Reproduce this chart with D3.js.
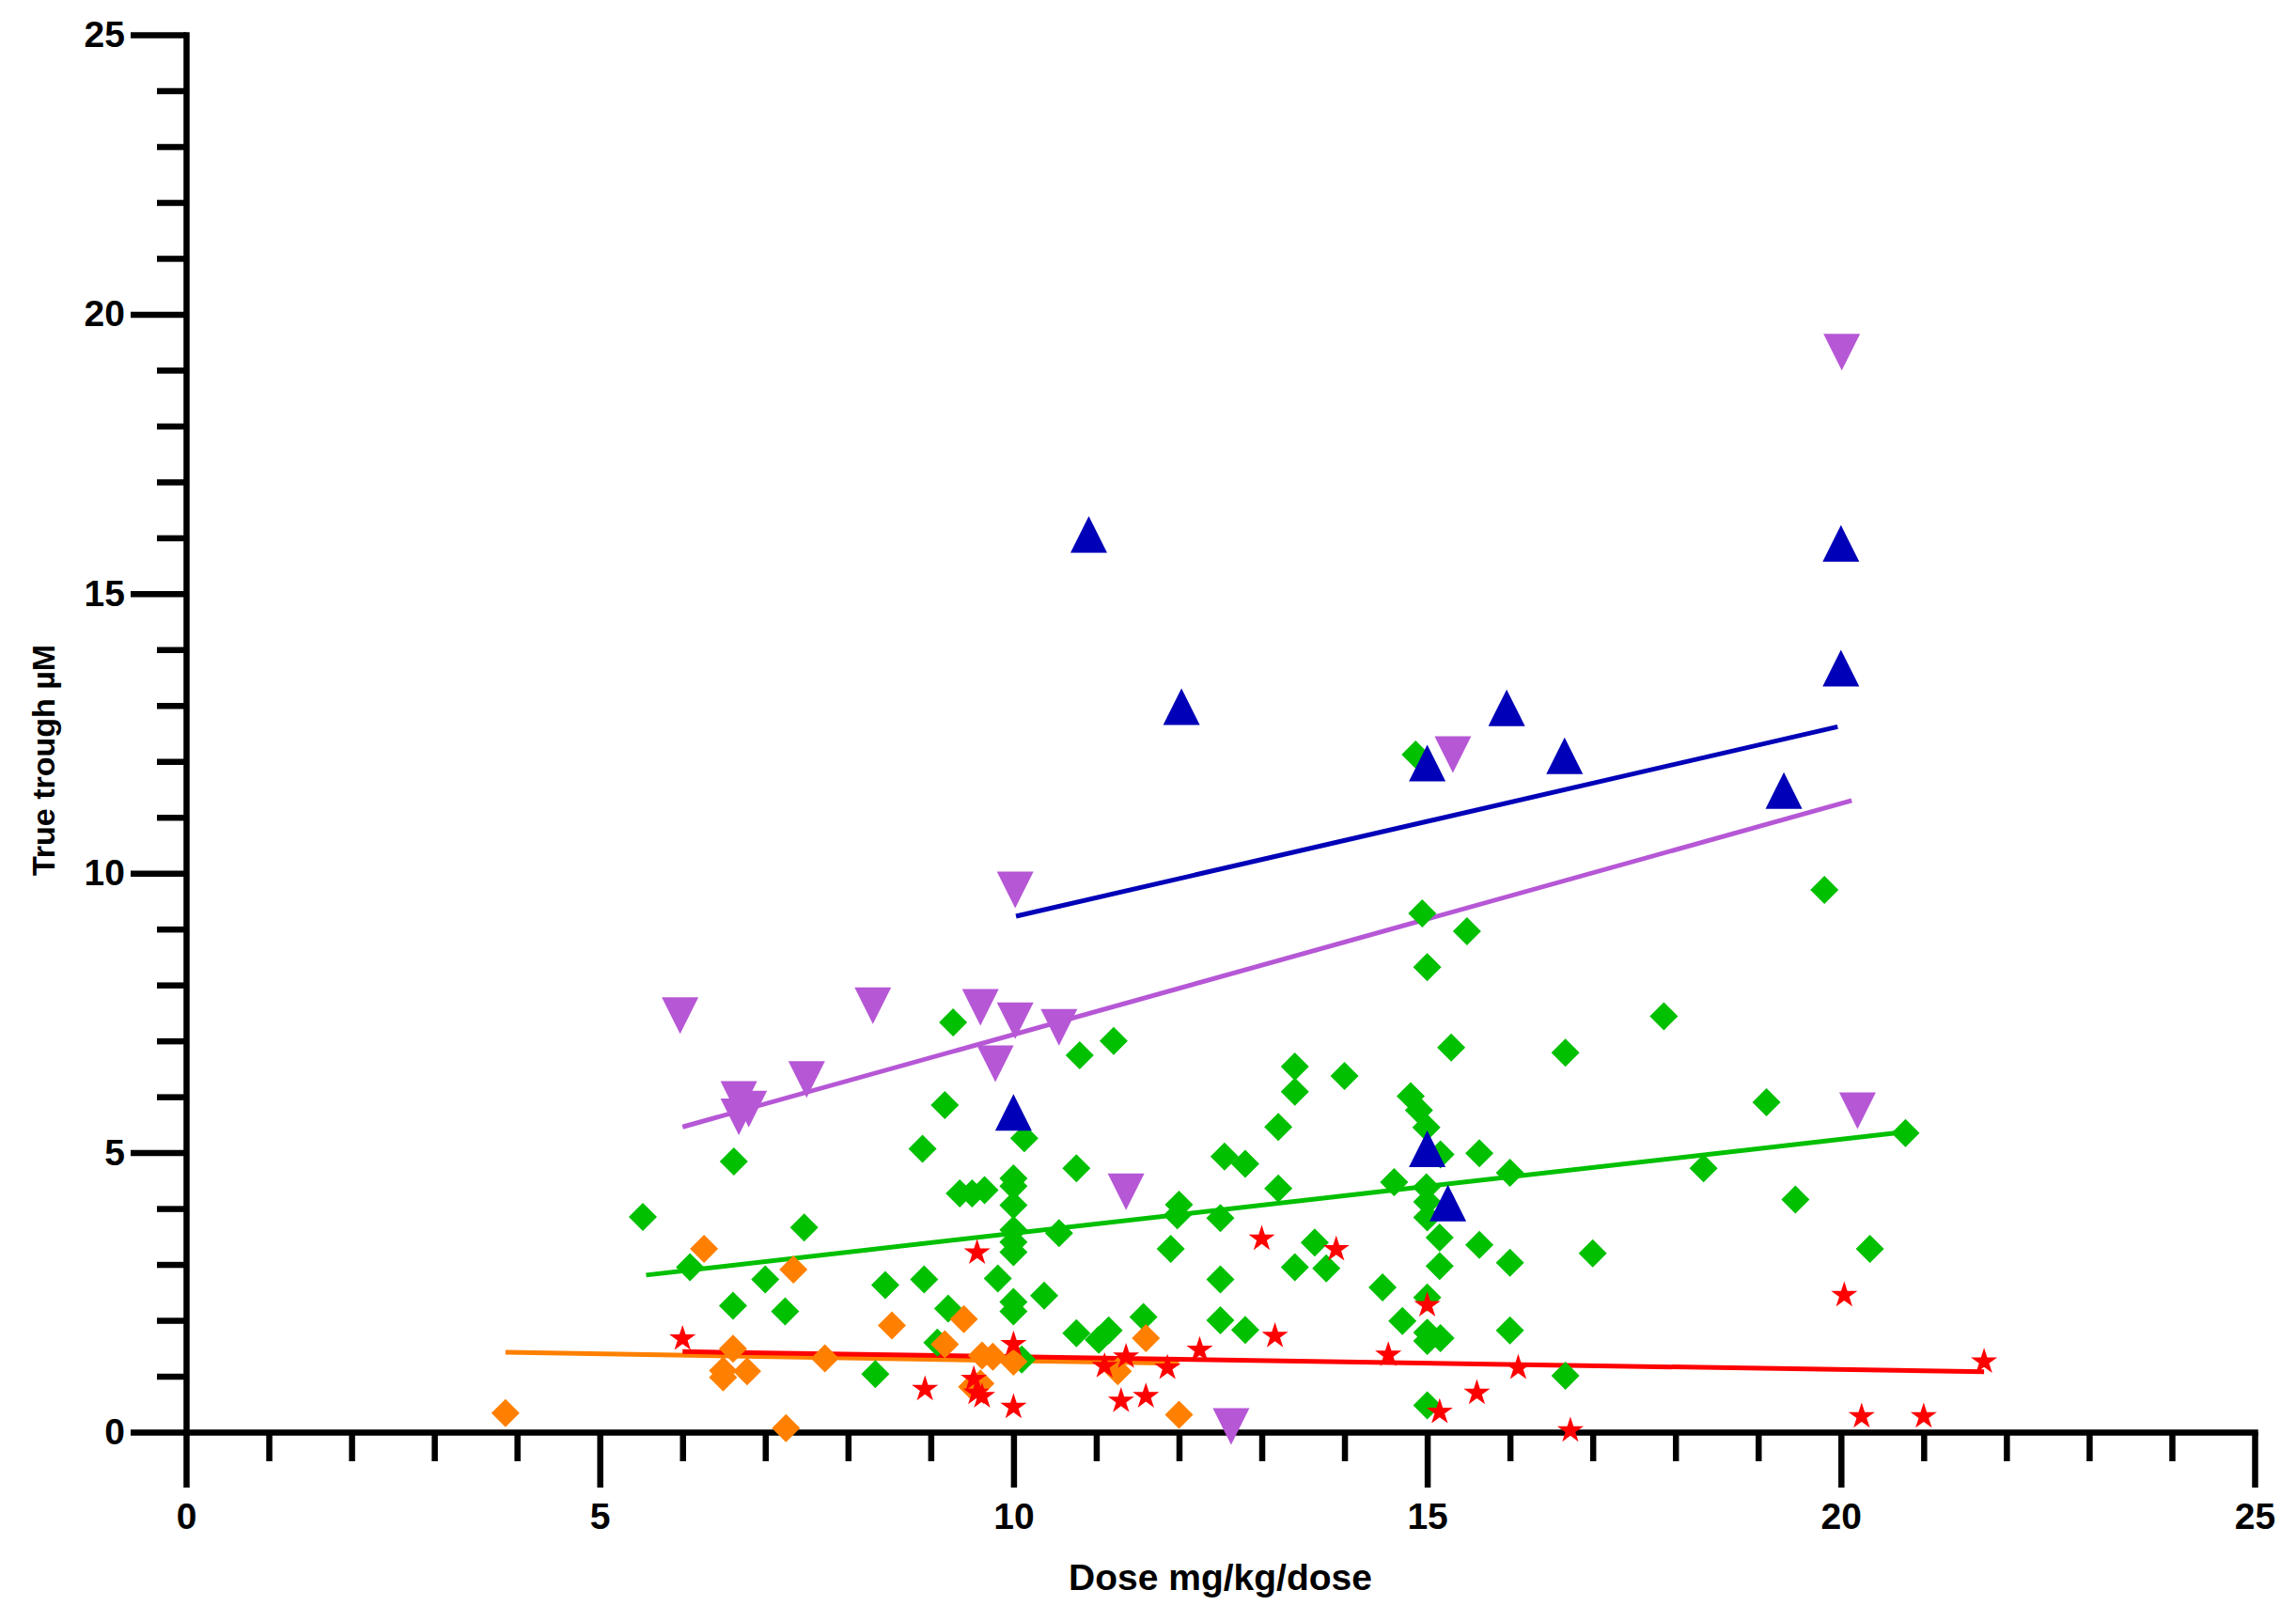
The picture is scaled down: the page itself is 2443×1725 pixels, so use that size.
<!DOCTYPE html>
<html>
<head>
<meta charset="utf-8">
<script src="https://cdn.jsdelivr.net/npm/d3@7"></script>
<style>
  html, body { margin: 0; padding: 0; background: #fff; }
  text { font-family: "Liberation Sans", Arial, sans-serif; font-weight: bold; fill: #000; }
</style>
</head>
<body>
<div id="trough-chart"></div>
<script>
// values: [dose, trough]
const greenPoints = [
  [5.52,3.85],[6.09,2.95],[6.61,2.26],[6.62,4.84],[7.0,2.73],[7.24,2.16],[7.47,3.66],
  [8.33,1.04],[8.45,2.63],[8.9,5.07],[8.92,2.73],[9.08,1.6],[9.17,5.85],[9.21,2.21],
  [9.27,7.33],[9.35,4.27],[9.5,4.27],[9.65,4.33],[9.81,2.75],[10.0,4.54],[10.0,4.4],
  [10.0,4.06],[10.0,3.62],[10.0,3.4],[10.0,3.22],[10.0,2.33],[10.0,2.16],[10.1,1.3],
  [10.13,5.26],[10.37,2.44],[10.55,3.56],[10.76,1.77],[10.76,4.72],[10.8,6.74],
  [11.03,1.65],[11.15,1.82],[11.21,7.0],[11.57,2.06],[11.9,3.28],[12.0,4.07],[11.98,3.88],
  [12.5,3.83],[12.5,2.73],[12.5,2.0],[12.55,4.93],[12.8,4.8],[12.8,1.83],[13.2,5.46],
  [13.2,4.36],[13.4,6.54],[13.4,6.09],[13.4,2.95],[13.64,3.39],[13.78,2.93],[14.0,6.37],
  [14.46,2.59],[14.6,4.47],[14.7,1.99],[14.8,6.01],[14.86,12.12],[14.9,5.76],[14.94,9.28],
  [14.99,5.45],[14.99,4.38],[15.0,8.32],[15.0,4.12],[15.0,3.84],[15.0,2.41],[15.0,1.78],
  [15.0,1.63],[15.0,0.48],[15.15,3.48],[15.15,2.97],[15.16,4.97],[15.16,1.68],[15.29,6.88],
  [15.48,8.96],[15.63,4.99],[15.63,3.35],[16.0,4.64],[16.0,3.03],[16.0,1.82],[16.67,6.79],
  [16.67,1.01],[17.0,3.2],[17.86,7.44],[18.34,4.72],[19.1,5.9],[19.45,4.16],[19.8,9.7],
  [20.35,3.28],[20.78,5.35]
];
const orangePoints = [
  [3.86,0.34],[6.26,3.28],[6.49,1.1],[6.49,0.98],[6.61,1.49],[6.78,1.09],[7.25,0.07],
  [7.34,2.91],[7.72,1.32],[8.53,1.91],[9.17,1.57],[9.4,2.02],[9.5,0.81],[9.6,0.87],
  [9.62,1.37],[9.75,1.35],[10.0,1.26],[11.26,1.09],[11.6,1.68],[12.0,0.31]
];
const redPoints = [
  [6.0,1.67],[8.93,0.77],[9.52,0.95],[9.55,0.7],[9.62,0.64],[9.56,3.21],[10.0,1.57],
  [10.0,0.45],[11.1,1.18],[11.36,1.35],[11.3,0.56],[11.6,0.64],[11.86,1.15],[12.25,1.47],
  [13.0,3.46],[13.16,1.72],[13.9,3.27],[14.53,1.38],[15.0,2.27],[15.15,0.36],[15.6,0.7],
  [16.1,1.15],[16.73,0.03],[20.04,2.45],[20.25,0.28],[21.0,0.28],[21.73,1.26]
];
const purplePoints = [
  [5.97,7.45],[6.68,5.95],[6.8,5.78],[6.68,5.64],[7.5,6.31],[8.3,7.63],[9.6,7.6],
  [9.78,6.59],[10.02,7.36],[10.02,9.7],[10.55,7.24],[11.36,4.3],[12.63,0.1],[15.31,12.12],
  [20.01,19.32],[20.2,5.75]
];
const bluePoints = [
  [10.0,5.72],[10.91,16.06],[12.03,12.98],[15.0,11.97],[15.0,5.07],[15.25,4.1],
  [15.96,12.96],[16.66,12.1],[19.31,11.48],[20.0,15.9],[20.0,13.67]
];

// fitted lines, end points
const greenFit = [[5.56,2.81],[20.78,5.37]];
const orangeFit = [[3.86,1.43],[12.0,1.23]];
const redFit = [[6.0,1.44],[21.73,1.08]];
const purpleFit = [[6.0,5.46],[20.13,11.3]];
const blueFit = [[10.03,9.23],[19.96,12.62]];

const xMajorTicks = [0, 5, 10, 15, 20, 25];
const xMinorTicks = [1,2,3,4,6,7,8,9,11,12,13,14,16,17,18,19,21,22,23,24];
const yMajorTicks = [0, 5, 10, 15, 20, 25];
const yMinorTicks = [1,2,3,4,6,7,8,9,11,12,13,14,16,17,18,19,21,22,23,24];

const xTitle = "Dose mg/kg/dose";
const yTitle = "True trough µM";

const margin = { top: 37, right: 44, bottom: 201, left: 198 },
      width = 2443 - margin.left - margin.right,
      height = 1725 - margin.top - margin.bottom;

const x = d3.scaleLinear().domain([0, 25]).range([0, width]);
const y = d3.scaleLinear().domain([0, 25]).range([height, 0]);

const svg = d3.select('#trough-chart').append('svg')
    .attr('width', 2443)
    .attr('height', 1725);

const g = svg.append('g')
    .attr('transform', `translate(${margin.left},${margin.top})`);

const axisWidth = 6.5;

// minor ticks
g.append('g')
    .attr('transform', `translate(0,${height})`)
    .call(d3.axisBottom(x).tickValues(xMinorTicks).tickSize(31).tickFormat(''))
    .call(a => a.select('.domain').remove());
g.append('g')
    .call(d3.axisLeft(y).tickValues(yMinorTicks).tickSize(31).tickFormat(''))
    .call(a => a.select('.domain').remove());

// major ticks and labels
g.append('g')
    .attr('transform', `translate(0,${height})`)
    .call(d3.axisBottom(x).tickValues(xMajorTicks).tickSize(59).tickSizeOuter(0).tickPadding(16));
g.append('g')
    .call(d3.axisLeft(y).tickValues(yMajorTicks).tickSize(59).tickSizeOuter(0).tickPadding(6));

g.selectAll('.tick line').attr('stroke', '#000').attr('stroke-width', axisWidth);
g.selectAll('.domain').attr('stroke', '#000').attr('stroke-width', axisWidth)
    .attr('stroke-linecap', 'square');
g.selectAll('.tick text')
    .attr('font-family', '"Liberation Sans", Arial, sans-serif')
    .attr('font-weight', 'bold')
    .attr('font-size', 39)
    .attr('fill', '#000');

// axis titles
svg.append('text')
    .attr('x', margin.left + width / 2)
    .attr('y', 1692)
    .attr('text-anchor', 'middle')
    .attr('font-size', 39)
    .text(xTitle);
svg.append('text')
    .attr('transform', 'translate(58,809) rotate(-90)')
    .attr('text-anchor', 'middle')
    .attr('font-size', 34)
    .text(yTitle);

// fit lines under the points
const line = d3.line().x(d => x(d[0])).y(d => y(d[1]));
const fits = [
  { pts: greenFit, color: '#00C000' },
  { pts: orangeFit, color: '#FF8000' },
  { pts: redFit, color: '#FF0000' },
  { pts: purpleFit, color: '#B657D6' },
  { pts: blueFit, color: '#0000B8' }
];
fits.forEach(f => {
  g.append('path')
    .attr('d', line(f.pts))
    .attr('fill', 'none')
    .attr('stroke', f.color)
    .attr('stroke-width', 5);
});

// marker shapes
const diamond = d3.symbol().type(d3.symbolSquare).size(450)();
const star = d3.symbol().type(d3.symbolStar).size(245)();
const triUp = 'M0,-19.5L19.5,19.5L-19.5,19.5Z';
const triDown = 'M0,19.5L19.5,-19.5L-19.5,-19.5Z';

function plotPoints(data, shape, color, rotate) {
  g.append('g').selectAll('path')
    .data(data)
    .enter().append('path')
      .attr('d', shape)
      .attr('transform', d => `translate(${x(d[0])},${y(d[1])})${rotate ? ' rotate(45)' : ''}`)
      .style('fill', color);
}

plotPoints(greenPoints, diamond, '#00C000', true);
plotPoints(orangePoints, diamond, '#FF8000', true);
plotPoints(redPoints, star, '#FF0000', false);
plotPoints(purplePoints, triDown, '#B657D6', false);
plotPoints(bluePoints, triUp, '#0000B8', false);
</script>
</body>
</html>
